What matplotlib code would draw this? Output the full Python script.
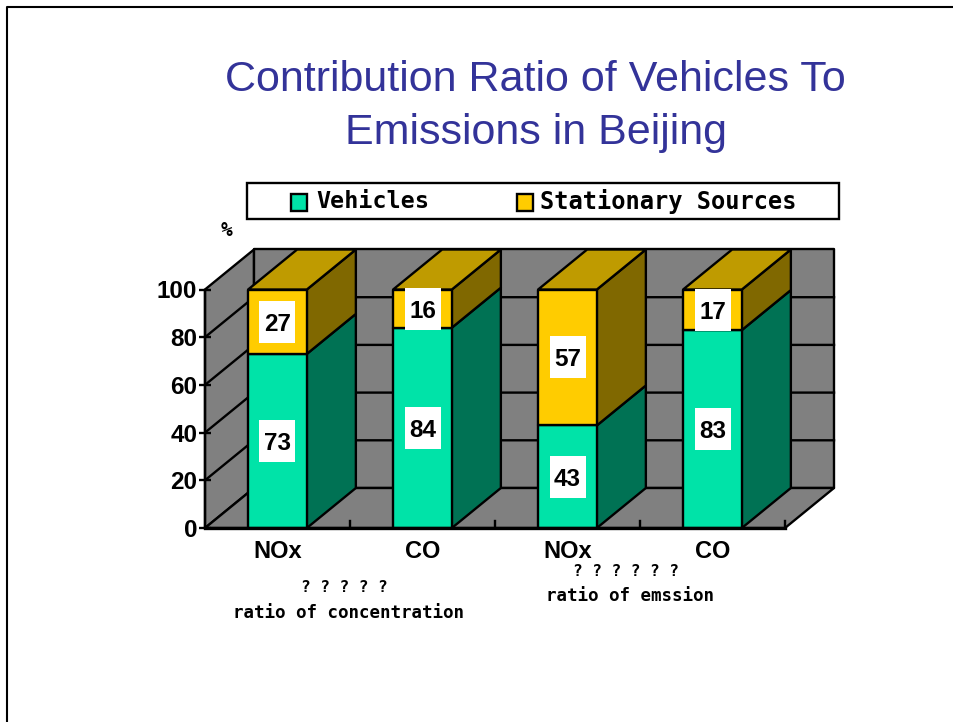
import matplotlib
matplotlib.use("Agg")
import matplotlib.pyplot as plt
from matplotlib.patches import Polygon, Rectangle
from matplotlib.lines import Line2D

categories = ["NOx", "CO", "NOx", "CO"]
vehicles = [73, 84, 43, 83]
stationary = [27, 16, 57, 17]
yticks = [0, 20, 40, 60, 80, 100]

W, H = 954, 722
GREEN, GREEN_SIDE = "#00E3A8", "#007254"
YELLOW, YELLOW_SIDE, YELLOW_TOP = "#FFCC00", "#806800", "#BF9B00"
GRAY = "#808080"
LW = 1.7
SANS = "Liberation Sans"
MONO = "DejaVu Sans Mono"

# depth of the fake 3d box, in data units
dx = 49 / 145
dy = 40 / 2.385
bar_w = 0.405
# white label box size, in data units
lab_w = 36 / 145
lab_h = 42 / 2.385


def px(x, y):
    return x / W, 1 - y / H


def poly(ax, pts, color, z):
    ax.add_patch(Polygon(pts, closed=True, facecolor=color, edgecolor="black",
                         linewidth=LW, joinstyle="round", clip_on=False, zorder=z))


def draw_box(ax, x, y0, y1, front, side, z):
    l, r = x - bar_w / 2, x + bar_w / 2
    poly(ax, [(r, y0), (r + dx, y0 + dy), (r + dx, y1 + dy), (r, y1)], side, z)
    poly(ax, [(l, y0), (r, y0), (r, y1), (l, y1)], front, z)


def draw_label(ax, x, y, value):
    ax.add_patch(Rectangle((x - lab_w / 2, y - lab_h / 2), lab_w, lab_h, facecolor="white",
                           edgecolor="none", clip_on=False, zorder=5))
    ax.text(x, y, str(value), ha="center", va="center_baseline", family=SANS, weight="bold",
            fontsize=17.5, zorder=6)


fig = plt.figure(figsize=(W / 100, H / 100), dpi=100, facecolor="white")
ax = fig.add_axes([205 / W, 1 - 528 / H, 580 / W, 238.5 / H])
ax.set_xlim(0, 4)
ax.set_ylim(0, 100)
ax.patch.set_visible(False)

# slide border
fig.add_artist(Line2D([7 / W, 7 / W, 1], [0, 1 - 7 / H, 1 - 7 / H], color="black", lw=1.5))

# walls and floor
poly(ax, [(0, 0), (dx, dy), (dx, 100 + dy), (0, 100)], GRAY, 1)
poly(ax, [(dx, dy), (4 + dx, dy), (4 + dx, 100 + dy), (dx, 100 + dy)], GRAY, 1)
poly(ax, [(0, 0), (4, 0), (4 + dx, dy), (dx, dy)], GRAY, 1)
for v in yticks[1:-1]:
    ax.plot([0, dx, 4 + dx], [v, v + dy, v + dy], color="black", lw=LW, clip_on=False, zorder=2)
for t in [1, 2, 3, 4]:
    ax.plot([t, t], [0, 2.8], color="black", lw=LW, clip_on=False, zorder=2)

# stacked bars
for i, (a, b) in enumerate(zip(vehicles, stationary)):
    x = i + 0.5
    draw_box(ax, x, 0, a, GREEN, GREEN_SIDE, 3)
    draw_box(ax, x, a, a + b, YELLOW, YELLOW_SIDE, 3)
    l, r = x - bar_w / 2, x + bar_w / 2
    poly(ax, [(l, a + b), (r, a + b), (r + dx, a + b + dy), (l + dx, a + b + dy)], YELLOW_TOP, 3)
    draw_label(ax, x, a / 2, a)
    draw_label(ax, x, a + b / 2, b)

# axes
for s in ["top", "right"]:
    ax.spines[s].set_visible(False)
ax.spines["left"].set_linewidth(LW)
ax.spines["bottom"].set_linewidth(2.4)
ax.spines["left"].set_zorder(6)
ax.spines["bottom"].set_zorder(6)
ax.set_yticks(yticks)
ax.set_yticklabels([str(v) for v in yticks], family=SANS, weight="bold", fontsize=17.5)
ax.tick_params(axis="y", direction="inout", length=9, width=LW, pad=1)
ax.set_xticks([i + 0.5 for i in range(4)])
ax.set_xticklabels(categories, family=SANS, weight="bold", fontsize=17)
ax.tick_params(axis="x", length=0, pad=9)

# title
fig.text(*px(535, 80), "Contribution Ratio of Vehicles To", ha="center", va="center",
         family=SANS, fontsize=31, color="#333399")
fig.text(*px(536, 133), "Emissions in Beijing", ha="center", va="center",
         family=SANS, fontsize=31, color="#333399")

# legend
fig.add_artist(Rectangle(px(247, 219), 592 / W, 36 / H, transform=fig.transFigure,
                         facecolor="white", edgecolor="black", linewidth=1.7))
fig.add_artist(Rectangle(px(291, 211), 16 / W, 17 / H, transform=fig.transFigure,
                         facecolor=GREEN, edgecolor="black", linewidth=1.7))
fig.add_artist(Rectangle(px(517, 211), 16 / W, 17 / H, transform=fig.transFigure,
                         facecolor=YELLOW, edgecolor="black", linewidth=1.7))
fig.text(*px(316, 202), "Vehicles", ha="left", va="center", family=MONO, weight="bold", fontsize=16.8)
fig.text(*px(540, 202), "Stationary Sources", ha="left", va="center", family=MONO, weight="bold", fontsize=17)

# small labels
fig.text(*px(227, 230), "%", ha="center", va="center", family=MONO, weight="bold", fontsize=14)
fig.text(*px(344, 587), "? ? ? ? ?", ha="center", va="center", family=MONO, weight="bold", fontsize=11.5)
fig.text(*px(349, 613), "ratio of concentration", ha="center", va="center", family=MONO, weight="bold", fontsize=12.6)
fig.text(*px(626, 571), "? ? ? ? ? ?", ha="center", va="center", family=MONO, weight="bold", fontsize=11.5)
fig.text(*px(630, 596), "ratio of emssion", ha="center", va="center", family=MONO, weight="bold", fontsize=12.6)

fig.savefig("out.png", dpi=100)
